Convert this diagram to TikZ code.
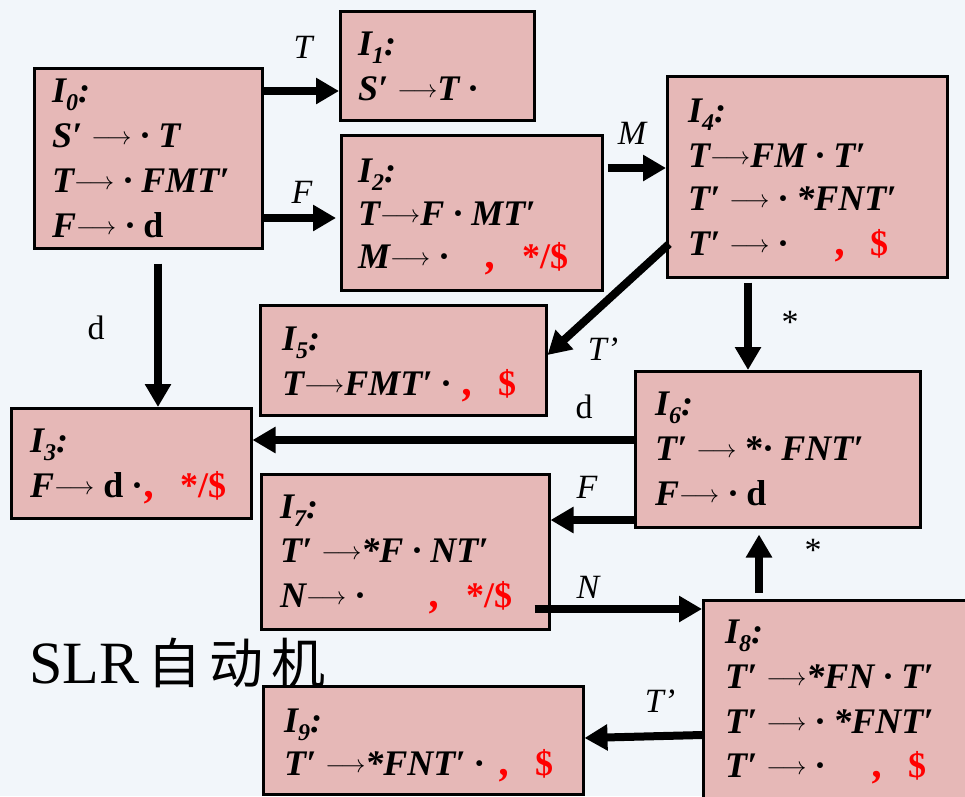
\documentclass[tikz,border=0pt]{standalone}
\usepackage{fontspec}
\setmainfont{Liberation Serif}
\newfontfamily\tms{Liberation Serif}
\newfontfamily\cjk{Noto Sans CJK SC}
\usetikzlibrary{arrows.meta,calc}
\definecolor{boxfill}{HTML}{E6B8B7}
\definecolor{bgc}{HTML}{F2F6FA}
\definecolor{redt}{HTML}{FF0000}
\newcommand\arw{\raisebox{2.5pt}{\fontsize{26}{26}\selectfont$\longrightarrow$}}
\newcommand\pd{·}
\newcommand\pr{′}
\newcommand\Sb[1]{\raisebox{-8pt}{\fontsize{24}{24}\selectfont #1}}
\newcommand\rcm{{\itshape\fontsize{42}{42}\selectfont ,}}
\begin{document}
\begin{tikzpicture}[x=1pt,y=-1pt,
  box/.style={draw=black, line width=2.5pt, fill=boxfill, anchor=north west, inner sep=0pt},
  tl/.style={anchor=base west, inner sep=0pt, font=\tms\fontsize{36}{40}\selectfont\bfseries\itshape},
  rd/.style={anchor=base west, inner sep=0pt, text=redt, font=\tms\fontsize{36}{40}\selectfont\bfseries},
  lab/.style={inner sep=0pt, font=\tms\fontsize{34}{36}\selectfont\itshape},
  arr/.style={line width=8pt, -{Triangle[length=23pt,width=25pt]}}]
\clip (0,0) rectangle (965,796);
\fill[bgc] (0,0) rectangle (965,796);
% boxes
\node[box,minimum width=228pt,minimum height=180pt] (I0) at (33,67) {};
\node[box,minimum width=194pt,minimum height=109pt] (I1) at (339,10) {};
\node[box,minimum width=261pt,minimum height=155pt] (I2) at (340,134) {};
\node[box,minimum width=280pt,minimum height=201pt] (I4) at (666,75) {};
\node[box,minimum width=286pt,minimum height=110pt] (I5) at (259,304) {};
\node[box,minimum width=240pt,minimum height=110pt] (I3) at (10,407) {};
\node[box,minimum width=285pt,minimum height=156pt] (I6) at (634,370) {};
\node[box,minimum width=288pt,minimum height=155pt] (I7) at (260,473) {};
\node[box,minimum width=290pt,minimum height=220pt] (I8) at (702,599) {};
\node[box,minimum width=320pt,minimum height=108pt] (I9) at (262,685) {};
% arrows
\draw[arr] (I0.east|-0,91) -- (I1.west|-0,91);
\draw[arr] (I0.east|-0,218) -- ($(I2.west|-0,218)+(-4,0)$);
\draw[arr] ($(I0.south-|158,0)+(0,14)$) -- (I3.north-|158,0);
\draw[arr] ($(I2.east|-0,168)+(4,0)$) -- (I4.west|-0,168);
\draw[arr] ($(I4.west|-0,244)+(3,0)$) -- (I5.east|-0,355);
\draw[arr] ($(I4.south-|748,0)+(0,4)$) -- (I6.north-|748,0);
\draw[arr] (I6.west|-0,440) -- (I3.east|-0,440);
\draw[arr] (I6.west|-0,520) -- (I7.east|-0,520);
\draw[arr] ($(I7.east|-0,609)+(-16,0)$) -- (I8.west|-0,609);
\draw[arr] ($(I8.north-|759,0)+(0,-6)$) -- ($(I6.south-|759,0)+(0,6)$);
\draw[arr] (I8.west|-0,735) -- (I9.east|-0,738);
% labels
\node[lab] (lT) at (303,47) {T};
\node[lab] (lF) at (302,192) {F};
\node[lab] (ld) at (96,328) {\upshape d};
\node[lab] (lM) at (632,133) {M};
\node[lab] (lTp) at (603,349) {T’};
\node[lab] (ls1) at (790,322) {\upshape *};
\node[lab] (ld2) at (584,407) {\upshape d};
\node[lab] (lF2) at (587,487) {F};
\node[lab] (lN) at (588,587) {N};
\node[lab] (ls2) at (813,550) {\upshape *};
\node[lab] (lTp2) at (660,701) {T’};
% I0
\node[tl] (a0) at (52,102) {I\Sb{0}:};
\node[tl] (a1) at (52,147) {S\pr\ \arw\ \pd\ T};
\node[tl] (a2) at (52,192) {T\arw\ \pd\ FMT\pr};
\node[tl] (a3) at (52,237) {F\arw\ \pd\ {\upshape d}};
% I1
\node[tl] (b0) at (358,55) {I\Sb{1}:};
\node[tl] (b1) at (358,100) {S\pr\ \arw T\ \pd};
% I2
\node[tl] (c0) at (358,182) {I\Sb{2}:};
\node[tl] (c1) at (358,225) {T\arw F\ \pd\ MT\pr};
\node[tl] (c2) at (358,268) {M\arw\ \pd};
\node[rd] (c3) at (486,268) {\rcm};
\node[rd] (c4) at (522,268) {*/\$};
% I4
\node[tl] (d0) at (688,122) {I\Sb{4}:};
\node[tl] (d1) at (688,167) {T\arw FM\ \pd\ T\pr};
\node[tl] (d2) at (688,210) {T\pr\ \arw\ \pd\ *FNT\pr};
\node[tl] (d3) at (688,255) {T\pr\ \arw\ \pd};
\node[rd] (d4) at (836,255) {\rcm};
\node[rd] (d5) at (870,255) {\$};
% I5
\node[tl] (e0) at (282,350) {I\Sb{5}:};
\node[tl] (e1) at (282,395) {T\arw FMT\pr\ \pd};
\node[rd] (e2) at (463,395) {\rcm};
\node[rd] (e3) at (498,395) {\$};
% I3
\node[tl] (f0) at (30,452) {I\Sb{3}:};
\node[tl] (f1) at (30,497) {F\arw\ {\upshape d}\ \pd};
\node[rd] (f2) at (145,497) {\rcm};
\node[rd] (f3) at (180,497) {*/\$};
% I6
\node[tl] (g0) at (655,415) {I\Sb{6}:};
\node[tl] (g1) at (655,460) {T\pr\ \arw\ {\upshape *}\pd\ FNT\pr};
\node[tl] (g2) at (655,505) {F\arw\ \pd\ {\upshape d}};
% I7
\node[tl] (h0) at (280,518) {I\Sb{7}:};
\node[tl] (h1) at (280,562) {T\pr\ \arw*F\ \pd\ NT\pr};
\node[tl] (h2) at (280,607) {N\arw\ \pd};
\node[rd] (h3) at (430,607) {\rcm};
\node[rd] (h4) at (466,607) {*/\$};
% I8
\node[tl] (k0) at (725,643) {I\Sb{8}:};
\node[tl] (k1) at (725,688) {T\pr\ \arw*FN\ \pd\ T\pr};
\node[tl] (k2) at (725,733) {T\pr\ \arw\ \pd\ *FNT\pr};
\node[tl] (k3) at (725,777) {T\pr\ \arw\ \pd};
\node[rd] (k4) at (873,777) {\rcm};
\node[rd] (k5) at (908,777) {\$};
% I9
\node[tl] (m0) at (284,732) {I\Sb{9}:};
\node[tl] (m1) at (284,775) {T\pr\ \arw*FNT\pr\ \pd};
\node[rd] (m2) at (500,775) {\rcm};
\node[rd] (m3) at (535,775) {\$};
% title
\node[anchor=base west, inner sep=0pt] (slr) at (29,683)
  {\tms\fontsize{60}{60}\selectfont SLR\hspace{8pt}{\cjk\fontsize{54}{54}\selectfont 自\hspace{8pt}动\hspace{8pt}机}};
\end{tikzpicture}
\end{document}
